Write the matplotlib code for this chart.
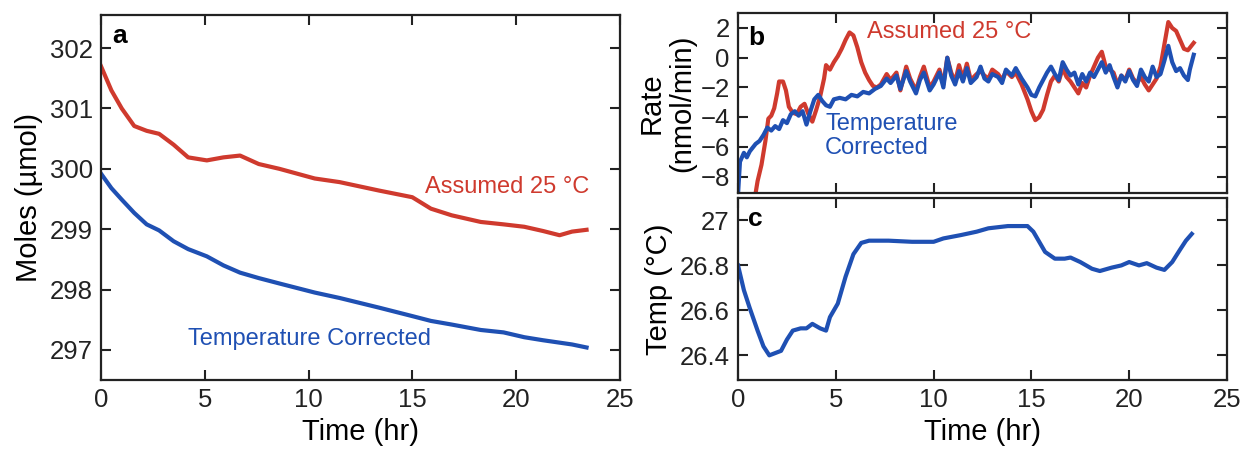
import matplotlib
matplotlib.use("Agg")
import matplotlib.pyplot as plt

plt.rcParams['font.family'] = ['Liberation Sans', 'DejaVu Sans']

RED = '#cf3a2e'
BLUE = '#1f50b3'

# (a) moles in headspace
t_moles = [0.0, 0.5, 1.0, 1.6, 2.2, 2.8, 3.5, 4.2, 5.1, 5.9, 6.7, 7.6, 8.6,
           10.3, 11.5, 13.4, 15.0, 15.9, 16.9, 18.3, 19.4, 20.4, 21.3, 22.1,
           22.7, 23.4]
moles_assumed = [301.70, 301.30, 301.00, 300.71, 300.63, 300.58, 300.40,
                 300.19, 300.14, 300.19, 300.22, 300.08, 300.00, 299.84,
                 299.78, 299.64, 299.53, 299.34, 299.23, 299.12, 299.08,
                 299.04, 298.97, 298.90, 298.96, 298.99]
moles_corrected = [299.92, 299.68, 299.49, 299.27, 299.08, 298.98, 298.80,
                   298.67, 298.55, 298.40, 298.28, 298.19, 298.10, 297.95,
                   297.86, 297.70, 297.56, 297.48, 297.42, 297.33, 297.29,
                   297.21, 297.16, 297.12, 297.09, 297.04]

# (b) rate of change
t_rate_corr = [0.0, 0.1, 0.3, 0.45, 0.6, 0.9, 1.1, 1.3, 1.5, 1.7, 1.9, 2.1,
               2.3, 2.5, 2.7, 2.9, 3.1, 3.3, 3.5, 3.7, 3.9, 4.1, 4.3, 4.5,
               4.7, 4.9, 5.2, 5.5, 5.8, 6.1, 6.4, 6.7, 7.0, 7.3, 7.6, 7.8,
               8.1, 8.3, 8.6, 8.8, 9.1, 9.3, 9.5, 9.8, 10.0, 10.3, 10.5,
               10.7, 10.9, 11.1, 11.3, 11.5, 11.7, 11.9, 12.2, 12.4, 12.6,
               12.8, 13.0, 13.3, 13.5, 13.7, 14.0, 14.2, 14.5, 14.8, 15.0,
               15.2, 15.4, 15.6, 15.8, 16.0, 16.2, 16.4, 16.6, 16.8, 17.0,
               17.2, 17.4, 17.6, 17.8, 18.0, 18.2, 18.4, 18.6, 18.8, 19.0,
               19.2, 19.4, 19.6, 19.8, 20.0, 20.2, 20.4, 20.6, 20.8, 21.0,
               21.2, 21.4, 21.6, 21.8, 22.0, 22.2, 22.4, 22.6, 22.8, 23.0,
               23.1, 23.3]
rate_corr = [-9.2, -7.0, -6.4, -6.7, -6.3, -5.8, -5.6, -5.2, -4.7, -4.9,
             -4.6, -4.8, -4.2, -4.4, -3.8, -3.6, -3.9, -3.6, -4.5, -3.6,
             -2.8, -2.5, -2.9, -3.2, -3.3, -2.8, -2.7, -2.8, -2.5, -2.6,
             -2.3, -2.4, -2.1, -1.9, -1.4, -1.7, -1.2, -2.1, -0.9, -1.6,
             -2.4, -1.5, -1.0, -2.2, -1.8, -1.0, -2.0, 0.0, -1.2, -1.8,
             -0.9, -1.6, -0.7, -1.7, -1.3, -0.6, -1.4, -1.6, -1.1, -1.3,
             -1.7, -0.8, -1.2, -0.7, -1.4, -2.0, -2.5, -2.6, -2.0, -1.5,
             -1.0, -0.6, -1.1, -1.5, -0.3, -0.8, -1.2, -1.0, -1.8, -1.1,
             -1.6, -1.0, -1.3, -0.8, -0.3, -1.0, -0.5, -1.3, -2.0, -1.2,
             -1.6, -0.9, -1.5, -1.9, -0.8, -1.3, -1.6, -0.6, -1.3, -1.1,
             -0.2, 0.8, -0.3, -0.9, -0.7, -1.2, -1.5, -0.8, 0.2]

t_rate_assumed = [0.85, 1.0, 1.2, 1.4, 1.55, 1.7, 1.85, 2.0, 2.1, 2.3, 2.45,
                  2.6, 2.8, 3.0, 3.2, 3.4, 3.6, 3.8, 4.0, 4.2, 4.4, 4.5, 4.7,
                  4.9, 5.1, 5.3, 5.5, 5.7, 5.9, 6.1, 6.3, 6.5, 6.7, 6.9, 7.1,
                  7.3, 7.6, 7.8, 8.1, 8.3, 8.6, 8.8, 9.1, 9.3, 9.5, 9.8,
                  10.0, 10.3, 10.5, 10.7, 10.9, 11.1, 11.3, 11.5, 11.7, 11.9,
                  12.2, 12.4, 12.6, 12.8, 13.0, 13.3, 13.5, 13.7, 14.0, 14.2,
                  14.5, 14.8, 15.0, 15.2, 15.4, 15.6, 15.8, 16.0, 16.2, 16.4,
                  16.6, 16.8, 17.0, 17.2, 17.4, 17.6, 17.8, 18.0, 18.2, 18.4,
                  18.6, 18.8, 19.0, 19.2, 19.4, 19.6, 19.8, 20.0, 20.2, 20.4,
                  20.6, 20.8, 21.0, 21.2, 21.4, 21.6, 21.8, 22.0, 22.2, 22.4,
                  22.6, 22.8, 23.0, 23.3]
rate_assumed = [-9.5, -8.3, -7.2, -5.6, -4.1, -3.9, -3.4, -2.4, -1.6, -1.6,
                -2.2, -3.3, -3.7, -3.8, -3.3, -3.1, -3.8, -4.3, -3.5, -2.6,
                -1.4, -0.5, -0.8, -0.3, 0.1, 0.6, 1.2, 1.7, 1.5, 0.7, -0.3,
                -1.0, -1.5, -1.9, -2.0, -1.8, -1.1, -1.5, -1.0, -2.2, -0.6,
                -1.4, -2.2, -1.3, -0.6, -2.0, -1.6, -0.8, -1.8, 0.0, -1.0,
                -1.6, -0.5, -1.4, -0.4, -1.5, -1.1, -0.9, -1.2, -1.4, -0.8,
                -1.1, -1.5, -0.9, -1.3, -1.0, -1.8, -2.8, -3.6, -4.2, -4.0,
                -3.5, -2.5, -1.6, -1.2, -1.6, -0.7, -1.3, -1.6, -2.0, -2.4,
                -1.7, -2.0, -1.2, -0.6, 0.0, 0.4, -0.6, -0.8, -1.0, -1.8,
                -1.2, -1.5, -0.8, -1.4, -1.7, -1.3, -1.8, -2.2, -1.8, -1.4,
                -0.6, 0.9, 2.4, 2.0, 1.8, 1.2, 0.6, 0.5, 1.0]

# (c) measured temperature
t_temp = [0.0, 0.3, 0.6, 1.0, 1.3, 1.6, 1.9, 2.2, 2.5, 2.8, 3.2, 3.5, 3.8,
          4.2, 4.5, 4.7, 5.1, 5.5, 5.9, 6.3, 6.7, 7.7, 8.9, 10.0, 10.5,
          11.4, 12.2, 12.8, 13.8, 14.8, 15.1, 15.4, 15.7, 16.2, 16.7, 17.0,
          17.5, 18.1, 18.5, 19.1, 19.6, 20.0, 20.5, 20.9, 21.4, 21.8, 22.2,
          22.6, 22.9, 23.2]
temp = [26.80, 26.69, 26.61, 26.51, 26.44, 26.40, 26.41, 26.42, 26.47,
        26.51, 26.52, 26.52, 26.54, 26.52, 26.51, 26.57, 26.63, 26.75,
        26.85, 26.90, 26.91, 26.91, 26.905, 26.905, 26.92, 26.935, 26.95,
        26.965, 26.975, 26.975, 26.95, 26.905, 26.86, 26.83, 26.83, 26.835,
        26.815, 26.785, 26.775, 26.79, 26.80, 26.815, 26.80, 26.81, 26.79,
        26.78, 26.815, 26.87, 26.91, 26.94]

xticks = [0, 5, 10, 15, 20, 25]
TICK_FS = 18.5
LABEL_FS = 21
LW = 3.0

fig = plt.figure(figsize=(12.41, 4.53), dpi=100)
ax_a = fig.add_axes([0.0814, 0.161, 0.418, 0.806])
ax_b = fig.add_axes([0.5947, 0.574, 0.394, 0.397])
ax_c = fig.add_axes([0.5947, 0.161, 0.394, 0.402])


def style(ax):
    for sp in ax.spines.values():
        sp.set_linewidth(1.6)
        sp.set_color('#222222')
    ax.tick_params(direction='in', length=7, width=1.5, top=True, right=True,
                   labelsize=TICK_FS, colors='#222222', pad=6)
    ax.set_xlim(0, 25)
    ax.set_xticks(xticks)


# panel a
ax_a.plot(t_moles, moles_assumed, color=RED, lw=LW)
ax_a.plot(t_moles, moles_corrected, color=BLUE, lw=LW)
style(ax_a)
ax_a.set_ylim(296.5, 302.55)
ax_a.set_yticks([297, 298, 299, 300, 301, 302])
ax_a.set_xlabel('Time (hr)', fontsize=LABEL_FS)
ax_a.set_ylabel('Moles (µmol)', fontsize=LABEL_FS, labelpad=5)
ax_a.text(15.6, 299.7, 'Assumed 25 °C', color=RED, fontsize=17, va='center')
ax_a.text(4.2, 297.18, 'Temperature Corrected', color=BLUE, fontsize=17,
          va='center')
ax_a.text(0.022, 0.975, 'a', transform=ax_a.transAxes, fontsize=19,
          fontweight='bold', va='top')

# panel b
ax_b.plot(t_rate_assumed, rate_assumed, color=RED, lw=LW)
ax_b.plot(t_rate_corr, rate_corr, color=BLUE, lw=LW)
style(ax_b)
ax_b.set_ylim(-9.1, 3.0)
ax_b.set_yticks([-8, -6, -4, -2, 0, 2])
ax_b.tick_params(labelbottom=False)
ax_b.set_ylabel('Rate\n(nmol/min)', fontsize=LABEL_FS, labelpad=3,
                linespacing=1.1)
ax_b.text(6.6, 1.7, 'Assumed 25 °C', color=RED, fontsize=17, va='center')
ax_b.text(4.45, -5.25, 'Temperature\nCorrected', color=BLUE, fontsize=17,
          va='center', linespacing=1.1)
ax_b.text(0.02, 0.93, 'b', transform=ax_b.transAxes, fontsize=19,
          fontweight='bold', va='top')

# panel c
ax_c.plot(t_temp, temp, color=BLUE, lw=LW)
style(ax_c)
ax_c.set_ylim(26.29, 27.10)
ax_c.set_yticks([26.4, 26.6, 26.8, 27.0])
ax_c.set_yticklabels(['26.4', '26.6', '26.8', '27'])
ax_c.set_xlabel('Time (hr)', fontsize=LABEL_FS)
ax_c.set_ylabel('Temp (°C)', fontsize=LABEL_FS, labelpad=5)
ax_c.text(0.02, 0.95, 'c', transform=ax_c.transAxes, fontsize=19,
          fontweight='bold', va='top')

fig.savefig('out.png', dpi=100)
